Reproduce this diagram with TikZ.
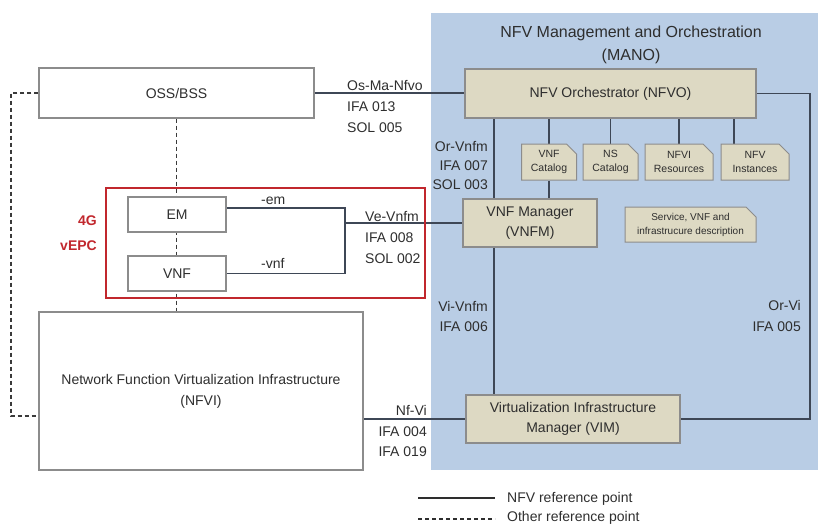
\documentclass[tikz,border=0pt]{standalone}
\usepackage{fontspec}
\setmainfont{Liberation Sans}
\usetikzlibrary{shapes.misc,calc}

\definecolor{manoblue}{HTML}{B9CDE5}
\definecolor{boxtan}{HTML}{DDD9C3}
\definecolor{boxedge}{HTML}{8C8C8C}
\definecolor{linkc}{HTML}{3E4756}
\definecolor{dashc}{HTML}{3A3A3A}
\definecolor{vepcred}{HTML}{C1272D}
\definecolor{txt}{HTML}{2E2E2E}

\pgfdeclarelayer{back}
\pgfdeclarelayer{links}
\pgfsetlayers{back,links,main}

\tikzset{
  every node/.style={text=txt, inner sep=0pt},
  whitebox/.style={draw=boxedge, fill=white, line width=1.1pt, rectangle,
    align=center, font=\fontsize{14}{21}\selectfont},
  tanbox/.style={draw=boxedge, fill=boxtan, line width=1.1pt, rectangle,
    align=center, font=\fontsize{14}{20}\selectfont},
  docbox/.style={draw=boxedge, fill=boxtan, line width=1pt,
    chamfered rectangle, chamfered rectangle corners=north east,
    chamfered rectangle xsep=5pt, chamfered rectangle ysep=5pt,
    align=center, font=\fontsize{10.5}{14}\selectfont},
  link/.style={draw=linkc, line width=1.6pt},
  otherlink/.style={draw=dashc, line width=1.2pt, dash pattern=on 4pt off 3pt},
  lbl/.style={font=\fontsize{14}{17}\selectfont},
  redlbl/.style={font=\fontsize{14}{17}\selectfont\bfseries, text=vepcred},
}

\begin{document}
\begin{tikzpicture}[x=1pt,y=-1pt]
\useasboundingbox (0,0) rectangle (818,525);

% MANO domain
\begin{pgfonlayer}{back}
  \fill[manoblue] (431,13) rectangle (818,470);
\end{pgfonlayer}
\node[font=\fontsize{16}{20}\selectfont, anchor=base] (mano1) at (631,37) {NFV Management and Orchestration};
\node[font=\fontsize{16}{20}\selectfont, anchor=base] (mano2) at (631,60) {(MANO)};

% MANO functional blocks
\node[tanbox, minimum width=291, minimum height=49] (nfvo) at (610.5,93.5) {NFV Orchestrator (NFVO)};
\node[docbox, minimum width=55, minimum height=36] (vnfcat) at (549,162) {VNF\\Catalog};
\node[docbox, minimum width=55, minimum height=36] (nscat) at (610.5,162) {NS\\Catalog};
\node[docbox, minimum width=68, minimum height=36] (nfvires) at (679,162) {NFVI\\Resources};
\node[docbox, minimum width=68, minimum height=36] (nfvinst) at (755,162) {NFV\\Instances};
\node[tanbox, minimum width=134, minimum height=48] (vnfm) at (530,223) {VNF Manager\\(VNFM)};
\node[docbox, font=\fontsize{10}{14}\selectfont, minimum width=131, minimum height=35] (svc) at (690.5,224.5) {Service, VNF and\\infrastrucure description};
\node[tanbox, minimum width=214, minimum height=48] (vim) at (573,419) {Virtualization Infrastructure\\Manager (VIM)};

% Left-hand blocks
\node[whitebox, minimum width=275, minimum height=50] (oss) at (176.5,93) {OSS/BSS};
\node[draw=vepcred, line width=1.8pt, minimum width=319, minimum height=110] (vepc) at (265.5,243) {};
\node[whitebox, minimum width=98, minimum height=35] (em) at (177,214.5) {EM};
\node[whitebox, minimum width=98, minimum height=35] (vnf) at (177,273.5) {VNF};
\node[whitebox, minimum width=324, minimum height=158] (nfvi) at (201,391) {Network Function Virtualization Infrastructure\\(NFVI)};

% Helper coordinates for connector routes
\coordinate (jn) at (345,223);
\coordinate (orvi) at (810,0);
\coordinate (orvnfm) at (494,0);
\coordinate (instx) at (734,0);
\coordinate (dlb) at (11,416);
\coordinate (emout) at ($(em.north east)!0.32!(em.south east)$);

\begin{pgfonlayer}{links}
  % NFV reference points
  \draw[link] (oss.east) -- (oss.east -| nfvo.west);
  \draw[link] (nfvo.east) -- (nfvo.east -| orvi) -- (orvi |- vim.east) -- (vim.east);
  \draw[link] (nfvo.south -| orvnfm) -- (vnfm.north -| orvnfm);
  \draw[link] (vnfm.south -| orvnfm) -- (vim.north -| orvnfm);
  \draw[link] (vnfcat.north) -- (vnfcat.north |- nfvo.south);
  \draw[link] (nscat.north) -- (nscat.north |- nfvo.south);
  \draw[link] (nfvires.north) -- (nfvires.north |- nfvo.south);
  \draw[link] (nfvinst.north -| instx) -- (nfvo.south -| instx);
  \draw[link] (vnfcat.south) -- (vnfm.north -| vnfcat.south);
  \draw[link] (emout) -- (emout -| jn) -- (jn |- vnf.east) -- (vnf.east);
  \draw[link] (jn) -- (vnfm.west);
  \draw[link] (nfvi.east |- vim.west) -- (vim.west);
  % Other reference points
  \draw[otherlink] (oss.south) -- (oss.south |- nfvi.north);
  \draw[otherlink] (oss.west) -| (dlb) -- (dlb -| nfvi.west);
\end{pgfonlayer}

% Reference point labels
\node[lbl, anchor=base west] (osma1) at (347,90) {Os-Ma-Nfvo};
\node[lbl, anchor=base west] (osma2) at (347,111) {IFA 013};
\node[lbl, anchor=base west] (osma3) at (347,132) {SOL 005};

\node[lbl, anchor=base east] (orvnfm1) at (488,151) {Or-Vnfm};
\node[lbl, anchor=base east] (orvnfm2) at (488,170) {IFA 007};
\node[lbl, anchor=base east] (orvnfm3) at (488,189) {SOL 003};

\node[lbl, anchor=base west] (vevnfm1) at (365,221) {Ve-Vnfm};
\node[lbl, anchor=base west] (vevnfm2) at (365,242) {IFA 008};
\node[lbl, anchor=base west] (vevnfm3) at (365,263) {SOL 002};

\node[lbl, anchor=base west] (emlbl) at (261,204) {-em};
\node[lbl, anchor=base west] (vnflbl) at (261,268) {-vnf};

\node[redlbl, anchor=base east] (vepc1) at (97,225) {4G};
\node[redlbl, anchor=base east] (vepc2) at (97,250) {vEPC};

\node[lbl, anchor=base east] (vivnfm1) at (488,311) {Vi-Vnfm};
\node[lbl, anchor=base east] (vivnfm2) at (488,331) {IFA 006};

\node[lbl, anchor=base east] (orvilbl1) at (801,310) {Or-Vi};
\node[lbl, anchor=base east] (orvilbl2) at (801,331) {IFA 005};

\node[lbl, anchor=base east] (nfvi1) at (427,415) {Nf-Vi};
\node[lbl, anchor=base east] (nfvi2) at (427,436) {IFA 004};
\node[lbl, anchor=base east] (nfvi3) at (427,456) {IFA 019};

% Legend
\coordinate (lg1a) at (418,498);
\coordinate (lg1b) at (495,498);
\coordinate (lg2a) at (418,519);
\coordinate (lg2b) at (495,519);
\draw[draw=txt, line width=1.1pt] (lg1a) -- (lg1b);
\draw[draw=txt, line width=1.1pt, dash pattern=on 4pt off 3pt] (lg2a) -- (lg2b);
\node[lbl, anchor=base west] (lgt1) at (507,502) {NFV reference point};
\node[lbl, anchor=base west] (lgt2) at (507,521.5) {Other reference point};
\end{tikzpicture}
\end{document}
